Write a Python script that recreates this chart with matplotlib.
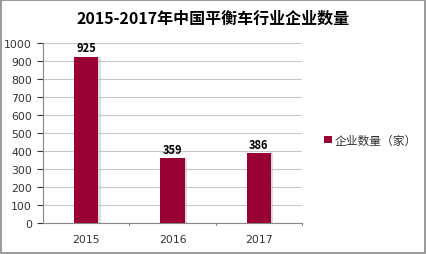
import matplotlib.pyplot as plt
from matplotlib.patches import Rectangle

plt.rcParams['font.family'] = ['Noto Sans CJK SC', 'DejaVu Sans']

years = ["2015", "2016", "2017"]
counts = [925, 359, 386]
series_name = "企业数量（家）"
title = "2015-2017年中国平衡车行业企业数量"

bar_color = "#990033"

fig = plt.figure(figsize=(4.27, 2.55), dpi=100)
ax = fig.add_axes([0.101, 0.122, 0.606, 0.705])

x = range(len(years))
# soft shadow behind bars
ax.bar([i + 0.03 for i in x], counts, width=0.28, color="#bbbbbb", alpha=0.5, zorder=2)
bars = ax.bar(x, counts, width=0.28, color=bar_color, zorder=3, label=series_name)

for i, v in enumerate(counts):
    ax.text(i, v + 15, str(v), ha="center", va="bottom", fontsize=8,
            fontweight="bold", color="black", zorder=4)

ax.set_xlim(-0.5, 2.5)
ax.set_ylim(0, 1000)
ax.set_yticks(range(0, 1001, 100))
ax.set_xticks(list(x))
ax.set_xticklabels(years)
ax.tick_params(axis="both", labelsize=7.8, colors="#333333", length=3)
ax.tick_params(axis="y", length=4, pad=4)
ax.tick_params(axis="x", length=0, pad=8)
for lbl in ax.get_xticklabels() + ax.get_yticklabels():
    lbl.set_family("DejaVu Sans")
ax.yaxis.grid(True, color="#c8c8c8", linewidth=0.8, zorder=0)
for s in ["top", "right"]:
    ax.spines[s].set_visible(False)
ax.spines["left"].set_color("#888888")
ax.spines["bottom"].set_color("#888888")
# category separator ticks on x axis
for b in [0.5, 1.5, 2.5]:
    ax.plot([b, b], [0, -12], color="#888888", linewidth=0.8, clip_on=False)

fig.text(0.5, 0.925, title, ha="center", va="center", fontsize=11.5,
         fontweight="bold", color="black")

leg = fig.legend(handles=[bars], labels=[series_name], loc="center left",
                 bbox_to_anchor=(0.735, 0.446), frameon=False, fontsize=8.5,
                 handlelength=0.6, handleheight=0.6, handletextpad=0.3)
for t in leg.get_texts():
    t.set_color("#333333")

fig.patches.append(Rectangle((0.003, 0.005), 0.992, 0.99, transform=fig.transFigure,
                             fill=False, edgecolor="#888888", linewidth=1.2))

plt.savefig("out.png", dpi=100)
